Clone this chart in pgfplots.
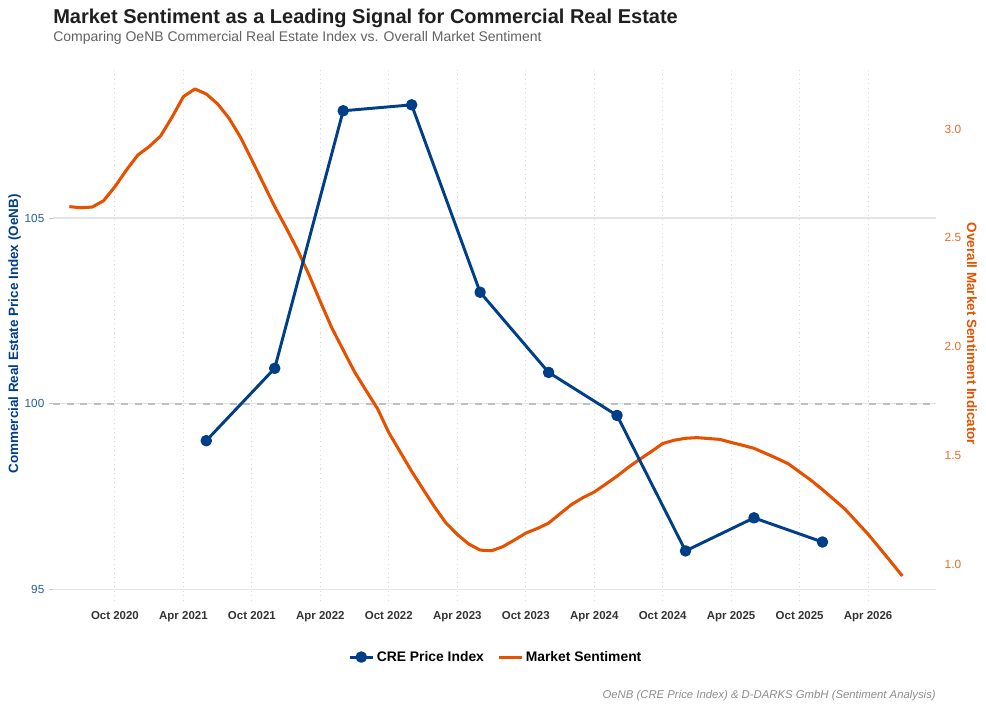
\documentclass[border=0pt]{standalone}
\usepackage{fontspec}
\setmainfont{Liberation Sans}
\usepackage{pgfplots}
\pgfplotsset{compat=1.18}
\definecolor{creblue}{HTML}{003F88}
\definecolor{sentorange}{HTML}{E65100}
\definecolor{gridgray}{HTML}{E4E4E4}
\definecolor{dotgray}{HTML}{DADADA}
\definecolor{xlab}{HTML}{333333}
\pgfplotsset{
  base/.style={
    scale only axis, width=662.25pt, height=400.5pt,
    at={(0,0)}, anchor=south west,
    xmin=3.57, xmax=80.95,
    axis line style={draw=none},
    /pgf/number format/assume math mode=true,
  }
}
\begin{document}
\begin{tikzpicture}[x=1pt,y=1pt]
\path[use as bounding box] (-39.75,-81.75) rectangle (699.75,450.75);
% Axis A: grid, left scale, x labels
\begin{axis}[base, ymin=94.68, ymax=109.07,
  xtick={9,15,...,75},
  xticklabels={Oct 2020,Apr 2021,Oct 2021,Apr 2022,Oct 2022,Apr 2023,Oct 2023,Apr 2024,Oct 2024,Apr 2025,Oct 2025,Apr 2026},
  xtick pos=bottom, ytick pos=left,
  xtick style={draw=none},
  ytick style={draw=gray!45, line width=0.7pt},
  tick align=outside, major tick length=3pt,
  xmajorgrids, x grid style={dotgray, line width=0.8pt, dash pattern=on 0.8pt off 2.6pt},
  ytick={95,100,105}, ymajorgrids, y grid style={gridgray, line width=0.9pt},
  xticklabel style={font=\bfseries\fontsize{8.6}{10}\selectfont, text=xlab, yshift=-1.5pt},
  yticklabel style={font=\fontsize{8.8}{10}\selectfont, text=creblue!85},
  ylabel={Commercial Real Estate Price Index (OeNB)},
  ylabel style={at={(rel axis cs:-0.0435,0.5)}, anchor=center, font=\bfseries\fontsize{10.1}{12}\selectfont, text=creblue},
]
\addplot[gray!50, line width=1.4pt, dash pattern=on 5.2pt off 5pt] coordinates {(3.57,100) (80.95,100)};
\end{axis}
% Axis B: right scale, sentiment
\begin{axis}[base, ymin=0.830, ymax=3.285,
  xtick=\empty,
  ytick={1,1.5,2,2.5,3}, ytick pos=right, yticklabel pos=right,
  ytick style={draw=none},
  yticklabel style={font=\fontsize{8.9}{10}\selectfont, text=sentorange!85, xshift=3pt,
    /pgf/number format/fixed, /pgf/number format/fixed zerofill, /pgf/number format/precision=1},
  ylabel={Overall Market Sentiment Indicator},
  ylabel style={at={(rel axis cs:1.0408,0.5)}, anchor=center, rotate=180, font=\bfseries\fontsize{10.1}{12}\selectfont, text=sentorange},
]
\addplot[sentorange, line width=2.3pt, line join=round] coordinates {
(5,2.643) (6,2.638) (7,2.641) (8,2.670) (9,2.735) (10,2.811) (11,2.880) (12,2.919)
(13,2.968) (14,3.054) (15,3.149) (16,3.184) (17,3.161) (18,3.115) (19,3.049) (20,2.962)
(21,2.857) (22,2.750) (23,2.643) (24,2.546) (25,2.444) (26,2.330) (27,2.206) (28,2.086)
(29,1.984) (30,1.883) (31,1.798) (32,1.715) (33,1.604) (34,1.515) (35,1.426) (36,1.344)
(37,1.263) (38,1.189) (39,1.136) (40,1.092) (41,1.064) (42,1.061) (43,1.080) (44,1.110)
(45,1.142) (46,1.163) (47,1.188) (48,1.231) (49,1.273) (50,1.305) (51,1.331) (52,1.367)
(53,1.404) (54,1.445) (55,1.482) (56,1.517) (57,1.554) (58,1.569) (59,1.578) (60,1.581)
(61,1.577) (62,1.573) (63,1.559) (64,1.546) (65,1.532) (66,1.509) (67,1.486) (68,1.461)
(69,1.423) (70,1.385) (71,1.342) (72,1.297) (73,1.251) (74,1.194) (75,1.137) (76,1.074)
(77,1.010) (78,0.945)};
\end{axis}
% Axis C: CRE index on top, legend
\begin{axis}[base, ymin=94.68, ymax=109.07, hide axis,
  legend columns=2,
  legend style={draw=none, fill=none, at={(rel axis cs:0.502,-0.105)}, anchor=center,
    font=\bfseries\fontsize{10.4}{12}\selectfont,
    /tikz/every even column/.append style={column sep=8pt}},
]
\addplot[creblue, line width=2.2pt, line join=round, mark=*, mark size=3.2pt, mark options={solid}] coordinates {
(17,99.0) (23,100.95) (29,107.89) (35,108.05) (41,103.0) (47,100.84) (53,99.68) (59,96.03) (65,96.92) (71,96.27)};
\addlegendentry{CRE Price Index}
\addlegendimage{sentorange, line width=2.3pt}
\addlegendentry{Market Sentiment}
\end{axis}
\node[anchor=base west, inner sep=0pt, font=\bfseries\fontsize{15}{18}\selectfont, text=black!88] at (0,432.75) {Market Sentiment as a Leading Signal for Commercial Real Estate};
\node[anchor=base west, inner sep=0pt, font=\fontsize{10.5}{12}\selectfont, text=black!62] at (0,419.25) {Comparing OeNB Commercial Real Estate Index vs. Overall Market Sentiment};
\node[anchor=base east, inner sep=0pt, font=\itshape\fontsize{8.5}{10}\selectfont, text=black!45] at (662.25,-73.5) {OeNB (CRE Price Index) \& D-DARKS GmbH (Sentiment Analysis)};
\end{tikzpicture}
\end{document}
